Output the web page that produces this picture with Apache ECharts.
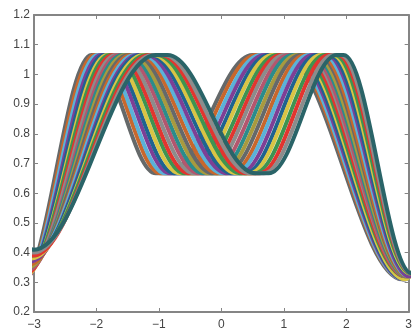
<!DOCTYPE html>
<html>
<head>
<meta charset="utf-8">
<script src="https://cdn.jsdelivr.net/npm/echarts@6/dist/echarts.min.js"></script>
<style>
html, body { margin: 0; padding: 0; background: #fff; }
#chart { width: 415px; height: 331px; }
</style>
</head>
<body>
<div id="chart"></div>
<script>
// levels of the flat tops and bottoms
var topLevel = 1.065;
var lowLevel = 0.667;
// far points outside the visible range, so the ends curve in
var leadPoint = [-3.7, 0.6];
var tailPoint = [3.6, 0.6];

// one value per curve, leftmost curve first
var startX    = [-3.20,-3.19,-3.18,-3.17,-3.16,-3.15,-3.14,-3.13,-3.12,-3.11,-3.10,-3.10,-3.09,-3.08,-3.07,-3.06,-3.05,-3.04,-3.03,-3.02,-3.01,-3.00];
var startY    = [0.30,0.30,0.31,0.31,0.32,0.32,0.33,0.33,0.34,0.34,0.35,0.35,0.36,0.36,0.37,0.37,0.38,0.38,0.39,0.39,0.40,0.41];
var top1Start = [-2.08,-2.03,-1.98,-1.93,-1.88,-1.83,-1.79,-1.74,-1.69,-1.64,-1.59,-1.54,-1.49,-1.44,-1.39,-1.34,-1.30,-1.25,-1.20,-1.15,-1.10,-1.05];
var top1End   = [-2.05,-1.99,-1.94,-1.88,-1.82,-1.77,-1.71,-1.65,-1.60,-1.54,-1.48,-1.43,-1.37,-1.31,-1.26,-1.20,-1.14,-1.09,-1.03,-0.97,-0.92,-0.86];
var lowStart  = [-1.05,-0.97,-0.90,-0.82,-0.75,-0.67,-0.59,-0.52,-0.44,-0.36,-0.29,-0.21,-0.14,-0.06,0.02,0.09,0.17,0.25,0.32,0.40,0.47,0.55];
var lowEnd    = [-0.85,-0.77,-0.70,-0.62,-0.54,-0.47,-0.39,-0.31,-0.24,-0.16,-0.08,-0.01,0.07,0.15,0.22,0.30,0.38,0.45,0.53,0.61,0.68,0.76];
var top2Start = [0.50,0.56,0.63,0.69,0.76,0.82,0.89,0.95,1.01,1.08,1.14,1.21,1.27,1.34,1.40,1.46,1.53,1.59,1.66,1.72,1.79,1.85];
var top2End   = [1.00,1.05,1.09,1.14,1.18,1.23,1.27,1.32,1.37,1.41,1.46,1.50,1.55,1.59,1.64,1.69,1.73,1.78,1.82,1.87,1.91,1.96];
var endX      = [2.90,2.91,2.91,2.92,2.93,2.94,2.94,2.95,2.96,2.96,2.97,2.98,2.99,2.99,3.00,3.01,3.01,3.02,3.03,3.04,3.04,3.05];
var endY      = [0.31,0.31,0.31,0.31,0.31,0.31,0.32,0.32,0.32,0.32,0.32,0.32,0.32,0.32,0.32,0.32,0.33,0.33,0.33,0.33,0.33,0.33];

var colors = ['#65696a','#c8672c','#5ab2d8','#7d3f96','#1f6390','#d9c445','#3e9450','#e2352f','#8c8c8c','#b3566e','#2b8c8c','#a89a3e'];

var chart = echarts.init(document.getElementById('chart'));

var series = [];
for (var i = 0; i < startY.length; i++) {
    var c = colors[i % colors.length];
    if (i == startY.length - 1) c = '#2a6468';
    series.push({
        type: 'line',
        smooth: 0.36,
        smoothMonotone: 'x',
        symbol: 'none',
        silent: true,
        lineStyle: { width: 4, color: c },
        data: [
            leadPoint,
            [startX[i], startY[i]],
            [top1Start[i], topLevel], [top1End[i], topLevel],
            [lowStart[i], lowLevel], [lowEnd[i], lowLevel],
            [top2Start[i], topLevel], [top2End[i], topLevel],
            [endX[i], endY[i]],
            tailPoint
        ]
    });
}

var axisGray = '#858585';
function xLabel(v) { return String(v).replace('-', '\u2212'); }
function yLabel(v) { return String(+v.toFixed(1)); }

var option = {
    animation: false,
    grid: { left: 34, top: 15, width: 380, height: 301 },
    xAxis: [{
        type: 'value', min: -3, max: 3, interval: 1,
        axisLine: { onZero: false, lineStyle: { color: axisGray, width: 2 } },
        axisTick: { inside: true, length: 4, lineStyle: { color: axisGray } },
        axisLabel: { formatter: xLabel, color: '#444', fontSize: 12, margin: 7, fontFamily: 'Liberation Sans' },
        splitLine: { show: false }
    }, {
        type: 'value', min: -3, max: 3, interval: 1, position: 'top',
        axisLine: { onZero: false, lineStyle: { color: axisGray, width: 2 } },
        axisTick: { inside: true, length: 4, lineStyle: { color: axisGray } },
        axisLabel: { show: false },
        splitLine: { show: false }
    }],
    yAxis: [{
        type: 'value', min: 0.2, max: 1.2, interval: 0.1,
        axisLine: { show: true, onZero: false, lineStyle: { color: axisGray, width: 2 } },
        axisTick: { show: true, inside: true, length: 4, lineStyle: { color: axisGray } },
        axisLabel: { formatter: yLabel, color: '#444', fontSize: 12, margin: 4, fontFamily: 'Liberation Sans' },
        splitLine: { show: false }
    }, {
        type: 'value', min: 0.2, max: 1.2, interval: 0.1, position: 'right',
        axisLine: { show: true, onZero: false, lineStyle: { color: axisGray, width: 2 } },
        axisTick: { show: true, inside: true, length: 4, lineStyle: { color: axisGray } },
        axisLabel: { show: false },
        splitLine: { show: false }
    }],
    series: series
};

chart.setOption(option);
</script>
</body>
</html>
